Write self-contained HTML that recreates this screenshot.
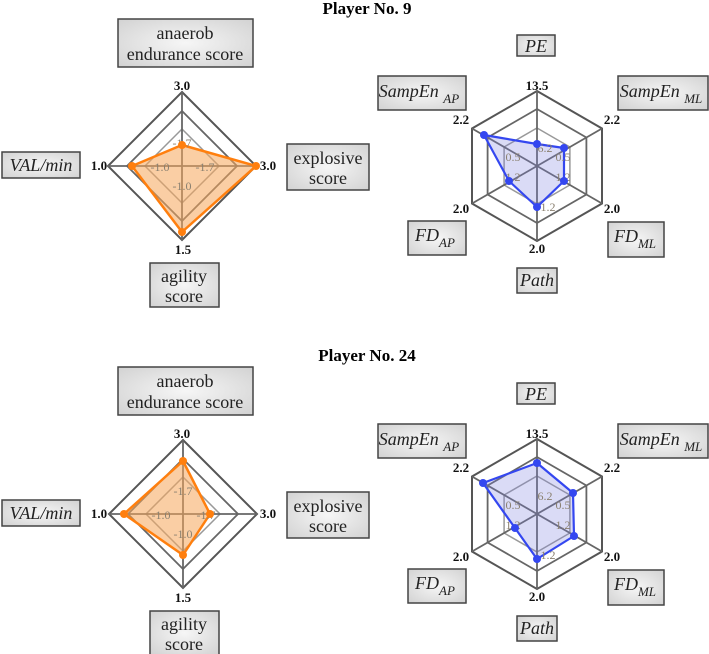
<!DOCTYPE html>
<html><head><meta charset="utf-8"><style>
html,body{margin:0;padding:0;background:#fff;}
svg{display:block;font-family:"Liberation Serif",serif;}
.box{fill:url(#g);stroke:#444;stroke-width:1.5;}
.bt{font-size:18px;fill:#222;text-anchor:middle;}
.it{font-style:italic;}
.ax{font-size:13px;font-weight:bold;fill:#111;text-anchor:middle;}
.in{font-size:12px;fill:#8a8070;text-anchor:middle;}
.o{stroke:#555;stroke-width:2;fill:none;}
.m{stroke:#666;stroke-width:1.8;fill:none;}
.i{stroke:#999;stroke-width:1.5;fill:none;}
.ttl{font-size:17px;font-weight:bold;text-anchor:middle;}
</style></head><body>
<svg width="709" height="654" viewBox="0 0 709 654">
<defs>
<radialGradient id="g" cx="50%" cy="50%" r="70%"><stop offset="0" stop-color="#f6f6f6"/><stop offset="1" stop-color="#d2d2d2"/></radialGradient>
<g id="dia">
<polygon class="o" points="0,-74 74,0 0,74 -74,0"/>
<polygon class="m" points="0,-55 55,0 0,55 -55,0"/>
<polygon class="i" points="0,-37 37,0 0,37 -37,0"/>
<line class="m" x1="0" y1="-74" x2="0" y2="74"/><line class="m" x1="-74" y1="0" x2="74" y2="0"/>
</g>
<g id="hex">
<polygon class="o" points="0,-75 65,-37.5 65,37.5 0,75 -65,37.5 -65,-37.5"/>
<polygon class="m" points="0,-57 49.4,-28.5 49.4,28.5 0,57 -49.4,28.5 -49.4,-28.5"/>
<polygon class="i" points="0,-38 32.9,-19 32.9,19 0,38 -32.9,19 -32.9,-19"/>
<line class="m" x1="0" y1="-75" x2="0" y2="75"/>
<line class="m" x1="65" y1="-37.5" x2="-65" y2="37.5"/>
<line class="m" x1="-65" y1="-37.5" x2="65" y2="37.5"/>
</g>
<g id="lbl">
<rect class="box" x="118" y="19" width="135" height="48"/>
<text class="bt" x="185" y="39">anaerob</text><text class="bt" x="185" y="60">endurance score</text>
<rect class="box" x="2" y="152" width="78" height="26"/>
<text class="bt it" x="41" y="171">VAL/min</text>
<rect class="box" x="287" y="144" width="82" height="46"/>
<text class="bt" x="328" y="164">explosive</text><text class="bt" x="328" y="184">score</text>
<rect class="box" x="150" y="263" width="69" height="44"/>
<text class="bt" x="184" y="282">agility</text><text class="bt" x="184" y="302">score</text>
<text class="ax" x="182" y="90">3.0</text><text class="ax" x="99" y="170">1.0</text>
<text class="ax" x="268" y="170">3.0</text><text class="ax" x="183" y="254">1.5</text>
<rect class="box" x="517" y="35" width="38" height="21"/>
<text class="bt it" x="536" y="52">PE</text>
<rect class="box" x="378" y="76" width="88" height="34"/>
<text class="bt it" x="419" y="97">SampEn <tspan font-size="13" dy="6">AP</tspan></text>
<rect class="box" x="618" y="76" width="90" height="34"/>
<text class="bt it" x="661" y="97">SampEn <tspan font-size="13" dy="6">ML</tspan></text>
<rect class="box" x="408" y="221" width="58" height="34"/>
<text class="bt it" x="435" y="241">FD<tspan font-size="13" dy="6">AP</tspan></text>
<rect class="box" x="608" y="222" width="56" height="35"/>
<text class="bt it" x="635" y="242">FD<tspan font-size="13" dy="6">ML</tspan></text>
<rect class="box" x="517" y="268" width="40" height="25"/>
<text class="bt it" x="537" y="286">Path</text>
<text class="ax" x="537" y="90">13.5</text><text class="ax" x="461" y="124">2.2</text>
<text class="ax" x="612" y="124">2.2</text><text class="ax" x="461" y="213">2.0</text>
<text class="ax" x="612" y="213">2.0</text><text class="ax" x="537" y="253">2.0</text>
</g>
<g id="inL">
<text class="in" x="0" y="-19">-1.7</text><text class="in" x="-22" y="5">-1.0</text>
<text class="in" x="23" y="5">-1.7</text><text class="in" x="0" y="24">-1.0</text>
</g>
<g id="inR">
<text class="in" x="8" y="-14">6.2</text><text class="in" x="-24" y="-5">0.5</text>
<text class="in" x="26" y="-5">0.5</text><text class="in" x="-24" y="15">1.2</text>
<text class="in" x="26" y="15">1.2</text><text class="in" x="11" y="45">1.2</text>
</g>
</defs>

<text class="ttl" x="367" y="14">Player No. 9</text>
<text class="ttl" x="367" y="361">Player No. 24</text>

<use href="#lbl"/>
<use href="#lbl" transform="translate(0,348)"/>

<g transform="translate(182,166)">
<use href="#dia"/>
<polygon points="0,-21 74,0 0,66 -50,0" fill="#f5a55a" fill-opacity="0.55" stroke="#ff7f0e" stroke-width="2.5" stroke-linejoin="round"/>
<use href="#inL"/>
<g fill="#ff7f0e"><circle cx="0" cy="-21" r="4"/><circle cx="74" cy="0" r="4"/><circle cx="0" cy="66" r="4"/><circle cx="-50" cy="0" r="4"/></g>
</g>
<g transform="translate(183,514)">
<use href="#dia"/>
<polygon points="0,-53 27,0 0,41 -59,0" fill="#f5a55a" fill-opacity="0.55" stroke="#ff7f0e" stroke-width="2.5" stroke-linejoin="round"/>
<use href="#inL"/>
<g fill="#ff7f0e"><circle cx="0" cy="-53" r="4"/><circle cx="27" cy="0" r="4"/><circle cx="0" cy="41" r="4"/><circle cx="-59" cy="0" r="4"/></g>
</g>
<g transform="translate(537,166)">
<use href="#hex"/>
<polygon points="0,-22 27,-18 27,15 0,41 -28,15 -53,-31" fill="#7b7fe0" fill-opacity="0.28" stroke="#3447f0" stroke-width="2.2" stroke-linejoin="round"/>
<use href="#inR"/>
<g fill="#3447f0"><circle cx="0" cy="-22" r="4"/><circle cx="27" cy="-18" r="4"/><circle cx="27" cy="15" r="4"/><circle cx="0" cy="41" r="4"/><circle cx="-28" cy="15" r="4"/><circle cx="-53" cy="-31" r="4"/></g>
</g>
<g transform="translate(537,514)">
<use href="#hex"/>
<polygon points="0,-51 36,-21 37,22 0,45 -22,14 -54,-31" fill="#7b7fe0" fill-opacity="0.28" stroke="#3447f0" stroke-width="2.2" stroke-linejoin="round"/>
<use href="#inR"/>
<g fill="#3447f0"><circle cx="0" cy="-51" r="4"/><circle cx="36" cy="-21" r="4"/><circle cx="37" cy="22" r="4"/><circle cx="0" cy="45" r="4"/><circle cx="-22" cy="14" r="4"/><circle cx="-54" cy="-31" r="4"/></g>
</g>
</svg>
</body></html>
